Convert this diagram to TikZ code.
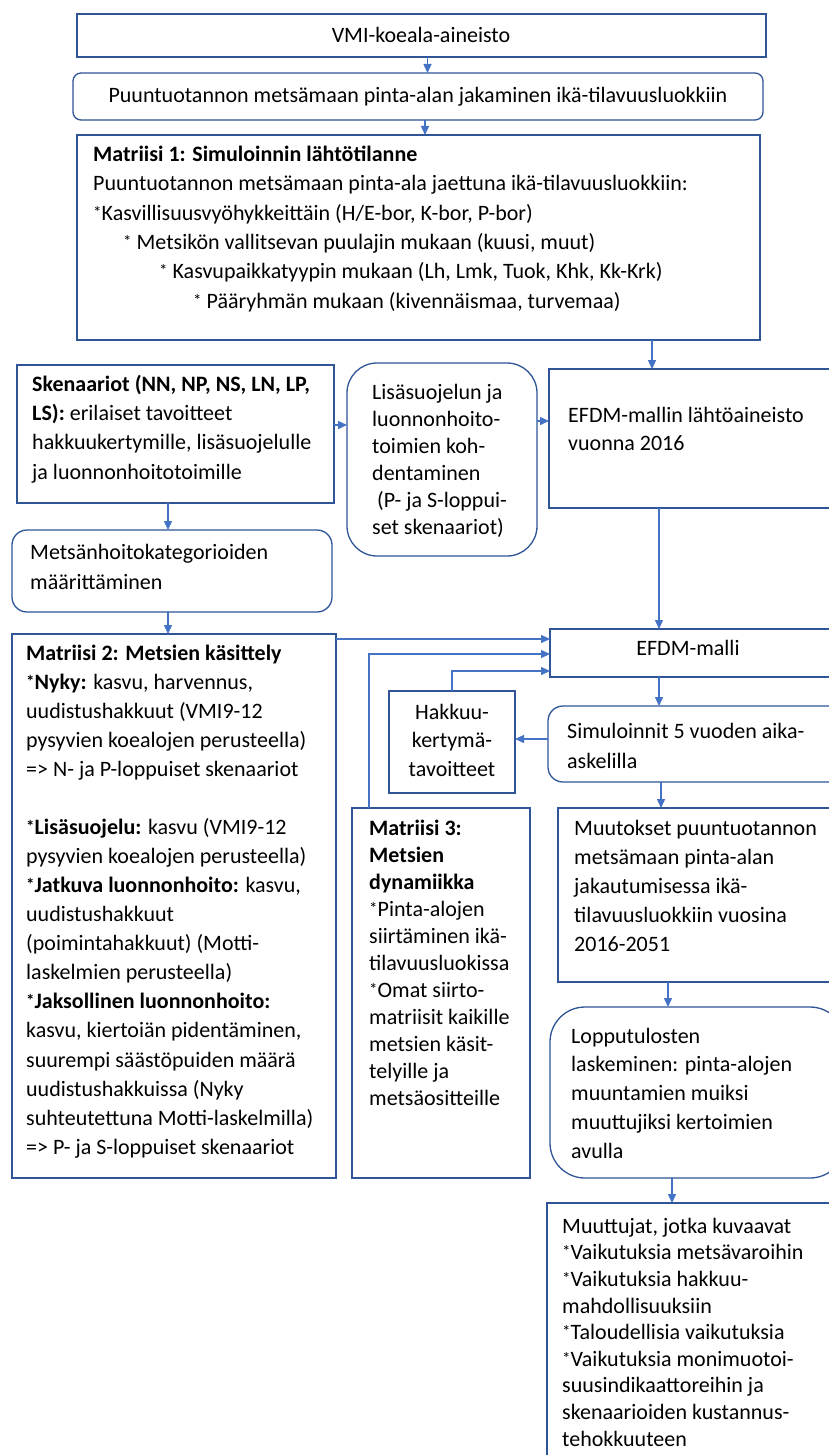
\documentclass[tikz,border=0pt]{standalone}
\usepackage{fontspec}
\setmainfont{Carlito}
\usetikzlibrary{arrows.meta,fit,calc}
\definecolor{bord}{RGB}{47,85,151}
\definecolor{arrc}{RGB}{68,114,196}
\newcommand\bu{{\fontsize{17}{17}\selectfont\raisebox{2pt}{*}}}
\newcommand\fs[1]{\fontsize{22}{#1}\selectfont}
\newcommand\fr{\rule{0pt}{17pt}}
\begin{document}
\begin{tikzpicture}[x=1pt,y=-1pt,
  box/.style={draw=bord, line width=1.3pt, inner sep=0pt, outer sep=0pt},
  rbox/.style={box, rounded corners=#1},
  link/.style={draw=arrc, line width=1.4pt, -{Triangle[length=9pt,width=8pt]}},
  tx/.style={anchor=north west, inner sep=0pt, align=left, font=\fs{#1}},
  ctx/.style={anchor=base, inner sep=0pt, align=center, font=\fs{#1}}]
\useasboundingbox (0,0) rectangle (829,1455);
\clip (0,0) rectangle (829,1455);
\fill[white] (0,0) rectangle (829,1455);
% boxes
\node[box, fit={(77,14) (766,57)}] (vmi) {};
\node[rbox=8pt, fit={(73,73) (763,120)}] (pu) {};
\node[box, fit={(77,135) (760,340)}] (m1) {};
\node[box, fit={(17,365) (334,503)}] (sk) {};
\node[rbox=30pt, fit={(347,363) (537,556)}] (lisa) {};
\node[box, fit={(549,369) (845,508)}] (efl) {};
\node[rbox=15pt, fit={(12,530) (332,612)}] (mh) {};
\node[box, fit={(12,634) (336,1178)}] (m2) {};
\node[box, fit={(550,629) (845,677)}] (efdm) {};
\node[box, fit={(389,691) (515,793)}] (hak) {};
\node[rbox=15pt, fit={(548,706) (845,782)}] (sim) {};
\node[box, fit={(352,808) (530,1178)}] (m3) {};
\node[box, fit={(558,808) (845,982)}] (muu) {};
\node[rbox=35pt, fit={(550,1007) (845,1178)}] (lop) {};
\node[box, fit={(547,1203) (845,1470)}] (mt) {};
% texts
\node[ctx=29] (tvmi) at (421,43) {VMI-koeala-aineisto};
\node[ctx=29] (tpu) at (418,103) {Puuntuotannon metsämaan pinta-alan jakaminen ikä-tilavuusluokkiin};
\node[tx=29.4] (tm1) at (93,144) {\fr\textbf{Matriisi 1: Simuloinnin lähtötilanne}\\
Puuntuotannon metsämaan pinta-ala jaettuna ikä-tilavuusluokkiin:\\
\bu Kasvillisuusvyöhykkeittäin (H/E-bor, K-bor, P-bor)\\
\hspace*{30pt}\bu\ Metsikön vallitsevan puulajin mukaan (kuusi, muut)\\
\hspace*{66pt}\bu\ Kasvupaikkatyypin mukaan (Lh, Lmk, Tuok, Khk, Kk-Krk)\\
\hspace*{100pt}\bu\ Pääryhmän mukaan (kivennäismaa, turvemaa)};
\node[tx=29.3] (tsk) at (32,374) {\fr\textbf{Skenaariot (NN, NP, NS, LN, LP,}\\
\textbf{LS):} erilaiset tavoitteet\\
hakkuukertymille, lisäsuojelulle\\
ja luonnonhoitotoimille};
\node[tx=27] (tlisa) at (372,382) {\fr Lisäsuojelun ja\\
luonnonhoito-\\
toimien koh-\\
dentaminen\\
\hspace*{5pt}(P- ja S-loppui-\\
set skenaariot)};
\node[tx=28] (tefl) at (568,405) {\fr EFDM-mallin lähtöaineisto\\vuonna 2016};
\node[tx=30] (tmh) at (30,542) {\fr Metsänhoitokategorioiden\\määrittäminen};
\node[tx=29.06] (tm2) at (26,643) {\fr\textbf{Matriisi 2: Metsien käsittely}\\
\textbf{\bu Nyky:} kasvu, harvennus,\\
uudistushakkuut (VMI9-12\\
pysyvien koealojen perusteella)\\
=> N- ja P-loppuiset skenaariot\\
\mbox{}\\
\textbf{\bu Lisäsuojelu:} kasvu (VMI9-12\\
pysyvien koealojen perusteella)\\
\textbf{\bu Jatkuva luonnonhoito:} kasvu,\\
uudistushakkuut\\
(poimintahakkuut) (Motti-\\
laskelmien perusteella)\\
\textbf{\bu Jaksollinen luonnonhoito:}\\
kasvu, kiertoiän pidentäminen,\\
suurempi säästöpuiden määrä\\
uudistushakkuissa (Nyky\\
suhteutettuna Motti-laskelmilla)\\
=> P- ja S-loppuiset skenaariot};
\node[ctx=29] (tefdm) at (688,655) {EFDM-malli};
\node[anchor=north, inner sep=0pt, align=center, font=\fs{28.5}] (thak) at (452,702) {\fr Hakkuu-\\kertymä-\\tavoitteet};
\node[tx=30] (tsim) at (567,721) {\fr Simuloinnit 5 vuoden aika-\\askelilla};
\node[tx=27] (tm3) at (369,818) {\fr\textbf{Matriisi 3:}\\
\textbf{Metsien}\\
\textbf{dynamiikka}\\
\bu Pinta-alojen\\
siirtäminen ikä-\\
tilavuusluokissa\\
\bu Omat siirto-\\
matriisit kaikille\\
metsien käsit-\\
telyille ja\\
metsäositteille};
\node[tx=29] (tmuu) at (574,818) {\fr Muutokset puuntuotannon\\
metsämaan pinta-alan\\
jakautumisessa ikä-\\
tilavuusluokkiin vuosina\\
2016-2051};
\node[tx=28.75] (tlop) at (571,1026) {\fr Lopputulosten\\
laskeminen: pinta-alojen\\
muuntamien muiksi\\
muuttujiksi kertoimien\\
avulla};
\node[tx=26.6] (tmt) at (562,1216) {\fr Muuttujat, jotka kuvaavat\\
\bu Vaikutuksia metsävaroihin\\
\bu Vaikutuksia hakkuu-\\
mahdollisuuksiin\\
\bu Taloudellisia vaikutuksia\\
\bu Vaikutuksia monimuotoi-\\
suusindikaattoreihin ja\\
skenaarioiden kustannus-\\
tehokkuuteen};
% connectors
\draw[link] ([xshift=6pt]vmi.south) -- ([xshift=6pt]vmi.south |- pu.north);
\draw[link] ([xshift=7pt]pu.south) -- ([xshift=7pt]pu.south |- m1.north);
\draw[link] (m1.south -| 652,0) -- (efl.north -| 652,0);
\draw[link] (sk.east |- 0,425) -- (lisa.west |- 0,425);
\draw[link] (lisa.east |- 0,421) -- (efl.west |- 0,421);
\draw[link] (efl.south -| 659,0) -- (efdm.north -| 659,0);
\draw[link] (sk.south -| 168,0) -- (mh.north -| 168,0);
\draw[link] (mh.south -| 168,0) -- (m2.north -| 168,0);
\draw[link] ([yshift=-5pt]m2.north east) -- ([yshift=-5pt]m2.north east -| efdm.west);
\draw[link] (m3.north -| 369,0) |- (efdm.west |- 0,654);
\draw[link] (hak.north) |- (efdm.west |- 0,671);
\draw[link] (efdm.south -| 659,0) -- (sim.north -| 659,0);
\draw[link] (sim.west |- 0,739) -- (hak.east |- 0,739);
\draw[link] (sim.south -| 661,0) -- (muu.north -| 661,0);
\draw[link] (muu.south -| 668,0) -- (lop.north -| 668,0);
\draw[link] (lop.south -| 672,0) -- (mt.north -| 672,0);
\end{tikzpicture}
\end{document}
